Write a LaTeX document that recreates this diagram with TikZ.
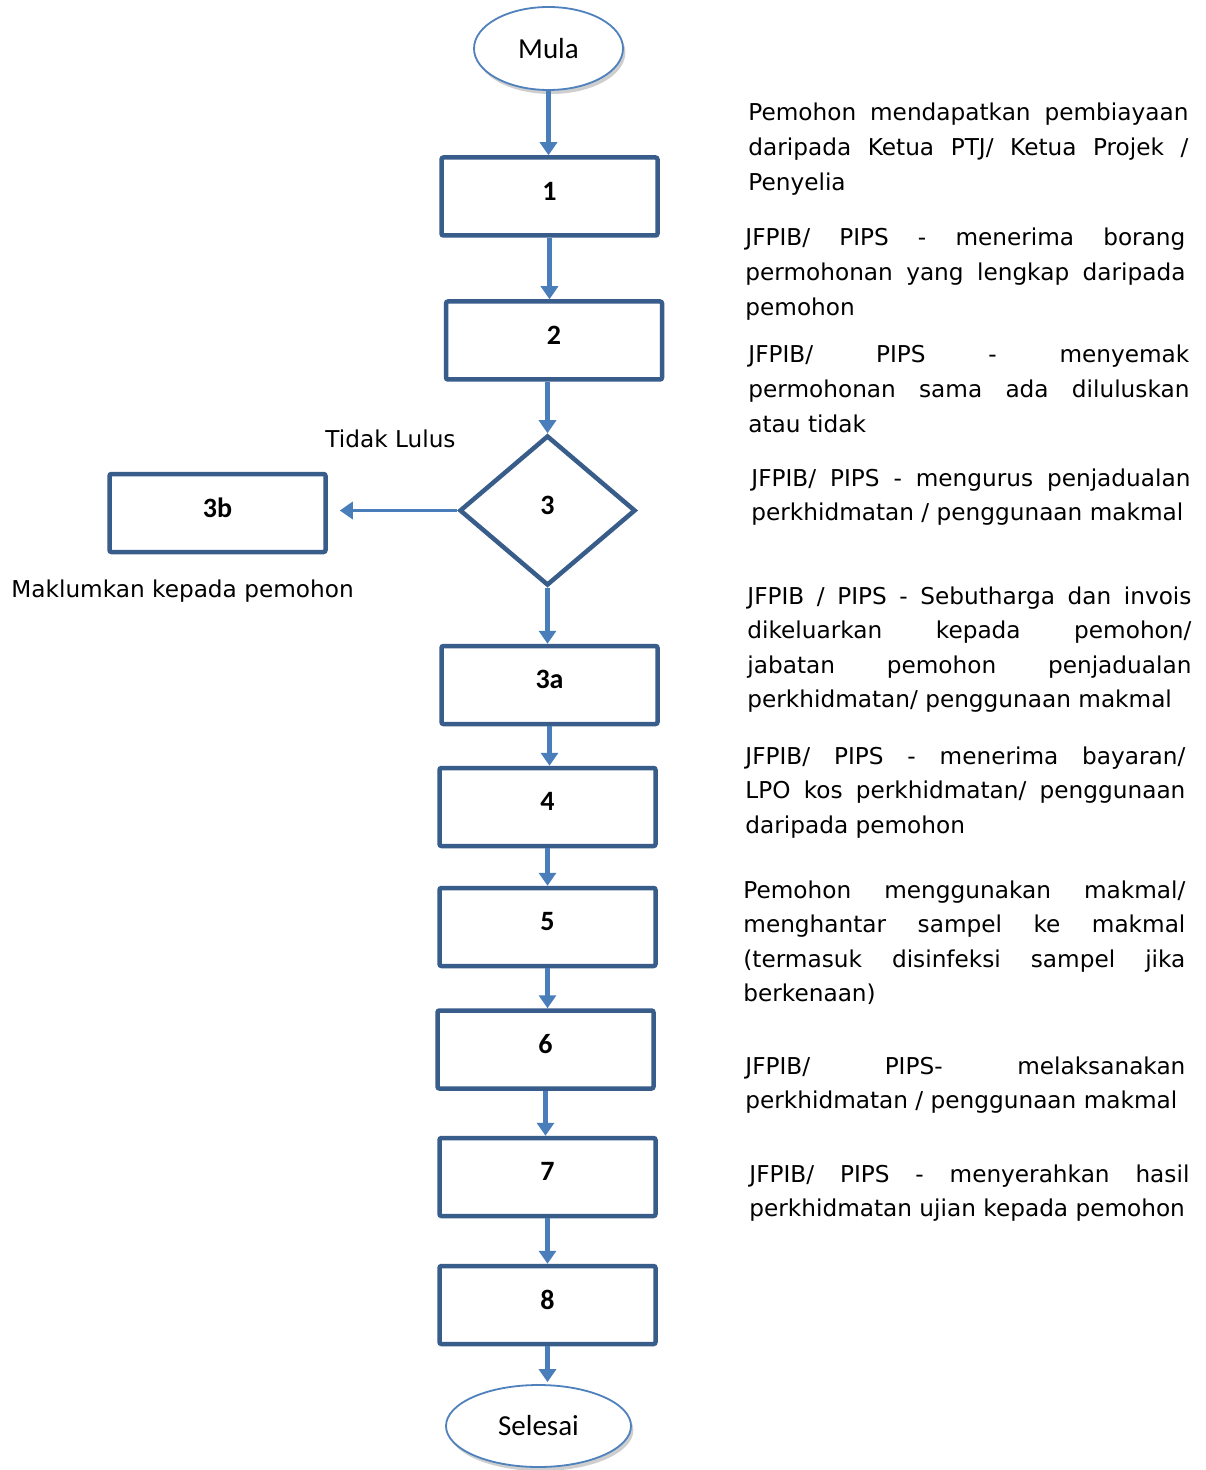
\documentclass[tikz,border=0pt]{standalone}
\usepackage{fontspec}
\setmainfont{DejaVu Sans}
\newfontfamily\calfont{Carlito}
\usetikzlibrary{shapes.geometric,arrows.meta,shadows}
\definecolor{arrowblue}{HTML}{4A7EBB}
\definecolor{boxblue}{HTML}{385D8A}
\definecolor{ellblue}{HTML}{4F81BD}
\hbadness=10000
\hyphenpenalty=10000
\begin{document}
\begin{tikzpicture}[x=0.5pt,y=-0.5pt,
  stepbox/.style={draw=boxblue, line width=2.25pt, rounded corners=1pt,
    minimum width=108pt, minimum height=39pt, inner sep=0pt, fill=white,
    font=\calfont\bfseries\fontsize{14pt}{16pt}\selectfont},
  decision/.style={diamond, draw=boxblue, line width=2.25pt,
    minimum width=88pt, minimum height=75pt, inner sep=0pt, fill=white,
    font=\calfont\bfseries\fontsize{14pt}{16pt}\selectfont},
  term/.style={ellipse, draw=ellblue, line width=0.9pt, fill=white,
    minimum width=74.5pt, minimum height=41.5pt, inner sep=0pt,
    font=\calfont\fontsize{14.5pt}{16pt}\selectfont,
    drop shadow={shadow xshift=1.2pt, shadow yshift=-2pt, opacity=0.35, fill=black!55}},
  arr/.style={draw=arrowblue, line width=2.4pt,
    -{Triangle[width=8.5pt,length=6.5pt]}, arrowblue},
  desc/.style={anchor=base west, inner sep=0pt,
    font=\fontsize{11.6pt}{17.3pt}\selectfont},
  plain/.style={anchor=base west, inner sep=0pt,
    font=\fontsize{11.6pt}{17.3pt}\selectfont}
]
\useasboundingbox (0,0) rectangle (1205,1470);
\fill[white] (0,0) rectangle (1205,1470);

% terminals
\node[term] (mula) at (548.5,48.5) {Mula};
\node[term, minimum width=92.5pt, minimum height=41pt] (sel) at (538.5,1426) {Selesai};

% process boxes
\node[stepbox] (b1) at (549.5,196.5) {\raisebox{5.5pt}{1}};
\node[stepbox] (b2) at (554,340.5) {\raisebox{5.5pt}{2}};
\node[decision] (d3) at (547.5,510.5) {\raisebox{5pt}{3}};
\node[stepbox] (b3b) at (217.5,513) {\raisebox{5.5pt}{3b}};
\node[stepbox] (b3a) at (549.5,685) {\raisebox{5.5pt}{3a}};
\node[stepbox] (b4) at (547.5,807) {\raisebox{5.5pt}{4}};
\node[stepbox] (b5) at (547.5,927) {\raisebox{5.5pt}{5}};
\node[stepbox] (b6) at (545.5,1049.5) {\raisebox{5.5pt}{6}};
\node[stepbox] (b7) at (547.5,1177) {\raisebox{5.5pt}{7}};
\node[stepbox] (b8) at (547.5,1305) {\raisebox{5.5pt}{8}};

% connectors
\draw[arr] (mula.south) -- (mula.south |- b1.north);
\draw[arr] (b1.south) -- (b1.south |- b2.north);
\draw[arr] (d3.north |- b2.south) -- (d3.north);
\draw[arr] (d3.south) -- (d3.south |- b3a.north);
\draw[arr, line width=1.8pt, shorten >=6pt] (d3.west) -- (d3.west -| b3b.east);
\draw[arr] (b3a.south) -- (b3a.south |- b4.north);
\draw[arr] (b4.south) -- (b4.south |- b5.north);
\draw[arr] (b5.south) -- (b5.south |- b6.north);
\draw[arr] (b6.south) -- (b6.south |- b7.north);
\draw[arr] (b7.south) -- (b7.south |- b8.north);
\draw[arr, shorten >=1pt] (b8.south) -- (b8.south |- sel.north);

% side labels
\node[plain] (tl) at (325,447) {Tidak Lulus};
\node[plain] (mk) at (11,597) {Maklumkan kepada pemohon};

% descriptions
\node[desc] (t1) at (748,121) {\parbox[t]{220pt}{Pemohon mendapatkan pembiayaan\linebreak daripada Ketua PTJ/ Ketua Projek /\linebreak Penyelia}};
\node[desc] (t2) at (745,246) {\parbox[t]{220pt}{JFPIB/ PIPS - menerima borang\linebreak permohonan yang lengkap daripada\linebreak pemohon}};
\node[desc] (t3) at (748,363) {\parbox[t]{220.5pt}{JFPIB/ PIPS - menyemak\linebreak permohonan sama ada diluluskan\linebreak atau tidak}};
\node[desc] (t4) at (751,486) {\parbox[t]{219.5pt}{JFPIB/ PIPS - mengurus penjadualan\linebreak perkhidmatan / penggunaan makmal}};
\node[desc] (t5) at (747,604) {\parbox[t]{222pt}{JFPIB / PIPS - Sebutharga dan invois\linebreak dikeluarkan kepada pemohon/\linebreak jabatan pemohon penjadualan\linebreak perkhidmatan/ penggunaan makmal}};
\node[desc] (t6) at (745,764) {\parbox[t]{220pt}{JFPIB/ PIPS - menerima bayaran/\linebreak LPO kos perkhidmatan/ penggunaan\linebreak daripada pemohon}};
\node[desc] (t7) at (743,898) {\parbox[t]{221pt}{Pemohon menggunakan makmal/\linebreak menghantar sampel ke makmal\linebreak (termasuk disinfeksi sampel jika\linebreak berkenaan)}};
\node[desc] (t8) at (745,1074) {\parbox[t]{220pt}{JFPIB/ PIPS- melaksanakan\linebreak perkhidmatan / penggunaan makmal}};
\node[desc] (t9) at (749,1182) {\parbox[t]{220pt}{JFPIB/ PIPS - menyerahkan hasil\linebreak perkhidmatan ujian kepada pemohon}};
\end{tikzpicture}
\end{document}
